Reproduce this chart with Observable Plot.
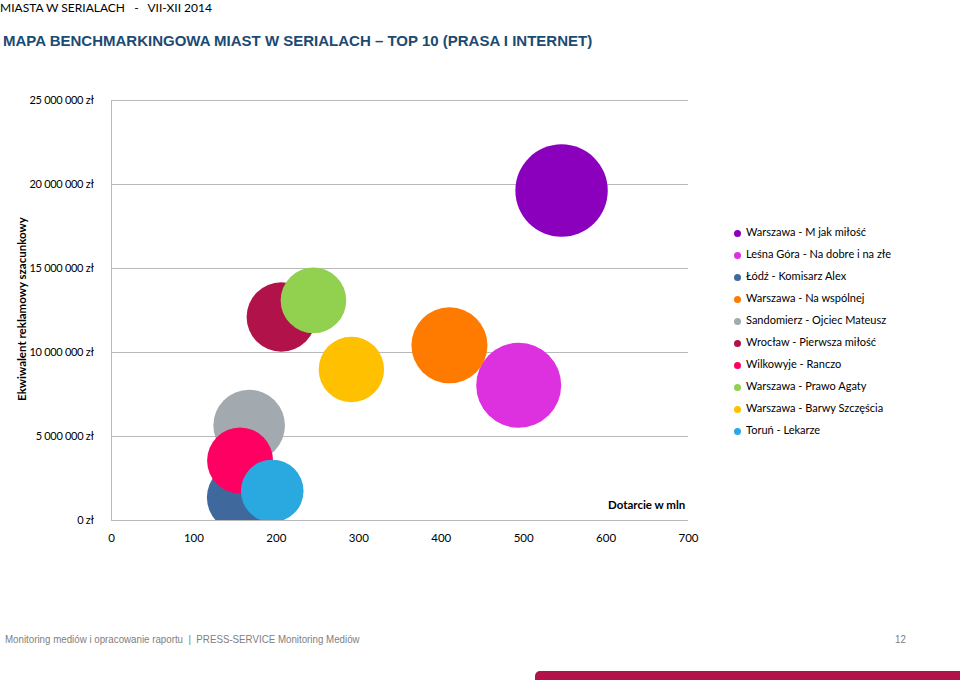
<!DOCTYPE html>
<html>
<head>
<meta charset="utf-8">
<script src="https://cdn.jsdelivr.net/npm/d3@7"></script>
<script src="https://cdn.jsdelivr.net/npm/@observablehq/plot@0.6"></script>
<style>
  html, body { margin: 0; padding: 0; background: #fff; }
  #page { position: relative; width: 960px; height: 680px; overflow: hidden; font-family: Lato, "Open Sans", sans-serif; }
  #chart { position: absolute; left: 0; top: 0; }
  .abs { position: absolute; white-space: pre; }
  #header { left: 0px; top: 1px; line-height: 1.1; font-size: 12px; color: #000; }
  #title { left: 3px; top: 32px; font-family: "Liberation Sans", Arial, sans-serif; font-weight: bold; font-size: 15px; color: #1C4A72; }
  #ylabel { left: 21px; top: 309px; transform: translate(-50%, -50%) rotate(-90deg); font-weight: bold; font-size: 11.5px; color: #000; }
  #xlabel { left: 608px; top: 498px; font-weight: bold; font-size: 11.5px; color: #000; }
  #legend { left: 733px; top: 224px; }
  .item { position: relative; height: 22px; font-size: 11px; color: #000; }
  .item .sw { position: absolute; left: 1px; top: 6px; width: 7px; height: 7px; border-radius: 50%; }
  .item .lb { position: absolute; left: 13px; top: 1px; }
  #footer { left: 5px; top: 633px; font-family: "Liberation Sans", Arial, sans-serif; font-size: 11px; color: #808080; transform: scaleX(0.885); transform-origin: left center; }
  #pagenum { left: 895px; top: 633px; font-family: "Liberation Sans", Arial, sans-serif; font-size: 11px; color: #808080; transform: scaleX(0.885); transform-origin: left center; }
  #bar { position: absolute; left: 535px; top: 671px; width: 430px; height: 12px; border-top-left-radius: 5px; }
  #chart g[aria-label="y-axis tick label"] text { font-size: 11px; letter-spacing: -0.3px; }
</style>
</head>
<body>
<div id="page">
  <div id="chart"></div>
  <div id="header" class="abs">MIASTA W SERIALACH   -   VII-XII 2014</div>
  <div id="title" class="abs">MAPA BENCHMARKINGOWA MIAST W SERIALACH – TOP 10 (PRASA I INTERNET)</div>
  <div id="ylabel" class="abs">Ekwiwalent reklamowy szacunkowy</div>
  <div id="xlabel" class="abs">Dotarcie w mln</div>
  <div id="legend" class="abs"></div>
  <div id="footer" class="abs">Monitoring mediów i opracowanie raportu  |  PRESS-SERVICE Monitoring Mediów</div>
  <div id="pagenum" class="abs">12</div>
  <div id="bar"></div>
</div>
<script>
// ---- data ----
const series = [
  "Warszawa - M jak miłość",
  "Leśna Góra - Na dobre i na złe",
  "Łódź - Komisarz Alex",
  "Warszawa - Na wspólnej",
  "Sandomierz - Ojciec Mateusz",
  "Wrocław - Pierwsza miłość",
  "Wilkowyje - Ranczo",
  "Warszawa - Prawo Agaty",
  "Warszawa - Barwy Szczęścia",
  "Toruń - Lekarze"
];
// Dotarcie w mln (x)
const reach = [546, 494, 157, 410, 167, 206, 156, 245, 291, 195];
// Ekwiwalent reklamowy szacunkowy, zł (y)
const equivalent = [19640000, 8050000, 1370000, 10430000, 5650000, 12110000, 3570000, 13100000, 8990000, 1760000];
// relative bubble size
const bubbleSize = [100, 84.6, 54.2, 67.7, 60.1, 56.4, 51.0, 50.4, 50.1, 45.9];
const colors = ["#8B00BD", "#DD30DF", "#3F689D", "#FF7B00", "#A2AAB0", "#B2124A", "#FE0062", "#92D050", "#FFC000", "#29A9DF"];
const xTicks = [0, 100, 200, 300, 400, 500, 600, 700];
const yTicks = [0, 5000000, 10000000, 15000000, 20000000, 25000000];
const footerBarColor = "#B2124A";

// ---- build ----
const table = series.map((name, i) => ({
  name, x: reach[i], y: equivalent[i], size: bubbleSize[i], color: colors[i]
}));

const fmtZl = d => d3.format(",")(d).replace(/,/g, " ") + " zł";
const gridColor = "#b9b9b9";

const chart = Plot.plot({
  width: 720,
  height: 560,
  marginLeft: 111,
  marginRight: 32,
  marginTop: 100,
  marginBottom: 40,
  style: { fontFamily: "Lato, 'Open Sans', sans-serif", fontSize: "11.5px", color: "#000", background: "transparent" },
  x: { domain: [0, 700], ticks: xTicks, tickSize: 0, tickPadding: 13, label: null },
  y: { domain: [0, 25000000], ticks: yTicks, tickSize: 0, tickPadding: 18, tickFormat: fmtZl, label: null },
  r: { type: "sqrt", domain: [0, 100], range: [0, 46.2] },
  color: { type: "identity" },
  marks: [
    Plot.ruleY(yTicks, { stroke: gridColor, strokeWidth: 1 }),
    Plot.ruleX([0], { stroke: gridColor, strokeWidth: 1 }),
    Plot.dot(table, { x: "x", y: "y", r: "size", fill: "color", stroke: null, sort: null, clip: true })
  ]
});
document.getElementById("chart").appendChild(chart);

// legend
const legend = document.getElementById("legend");
series.forEach((name, i) => {
  const row = document.createElement("div");
  row.className = "item";
  const sw = document.createElement("span");
  sw.className = "sw";
  sw.style.background = colors[i];
  const lb = document.createElement("span");
  lb.className = "lb";
  lb.textContent = name;
  row.appendChild(sw);
  row.appendChild(lb);
  legend.appendChild(row);
});
document.getElementById("bar").style.background = footerBarColor;
</script>
</body>
</html>
